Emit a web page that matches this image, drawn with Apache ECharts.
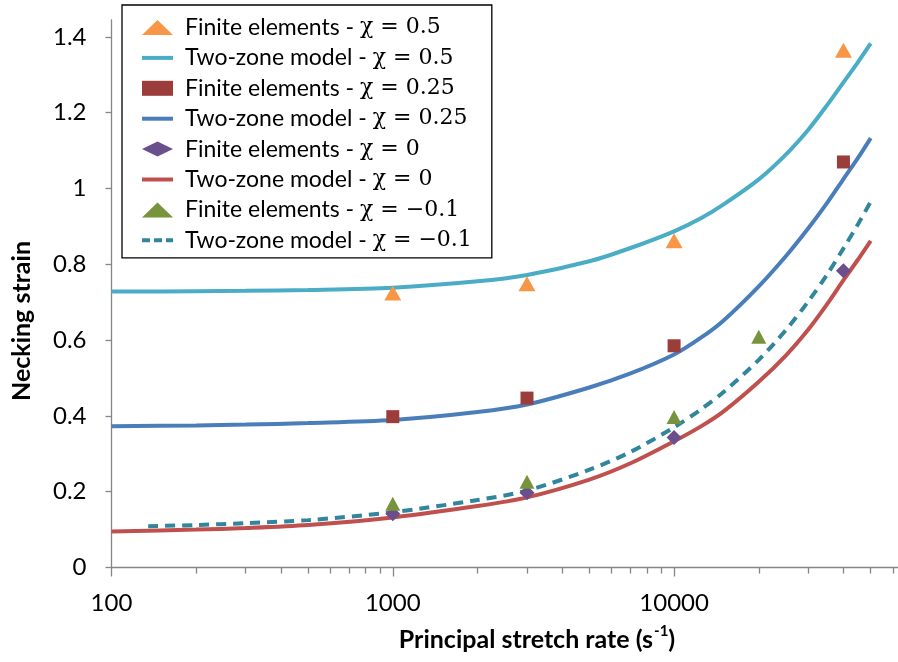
<!DOCTYPE html>
<html>
<head>
<meta charset="utf-8">
<script src="https://cdn.jsdelivr.net/npm/echarts@6/dist/echarts.min.js"></script>
<style>
html,body{margin:0;padding:0;background:#fff;}
#chart{width:898px;height:662px;}
</style>
</head>
<body>
<div id="chart"></div>
<script>
// ---- data ----
const rateFE = [1000, 3000, 10000, 40000];
const fe05 = [0.724, 0.749, 0.862, 1.365];
const fe025 = [0.398, 0.447, 0.585, 1.07];
const fe0 = [0.142, 0.197, 0.343, 0.783];
const rateFEm01 = [1000, 3000, 10000, 20000];
const feM01 = [0.168, 0.226, 0.397, 0.609];

const rateTZ = [100, 200, 300, 500, 1000, 2000, 3000, 5000, 7000, 10000, 12500, 15000, 20000, 25000, 30000, 35000, 40000, 45000, 50000];
const tz05 = [0.728, 0.729, 0.730, 0.732, 0.738, 0.755, 0.772, 0.808, 0.843, 0.887, 0.922, 0.958, 1.024, 1.09, 1.155, 1.22, 1.28, 1.333, 1.383];
const tz025 = [0.373, 0.375, 0.377, 0.381, 0.389, 0.41, 0.43, 0.475, 0.512, 0.562, 0.607, 0.652, 0.742, 0.822, 0.895, 0.962, 1.025, 1.08, 1.133];
const tz0 = [0.095, 0.1, 0.104, 0.112, 0.132, 0.162, 0.185, 0.232, 0.275, 0.333, 0.373, 0.412, 0.49, 0.56, 0.628, 0.695, 0.758, 0.812, 0.862];
const rateTZm01 = [135, 200, 300, 500, 1000, 2000, 3000, 5000, 7000, 10000, 12500, 15000, 20000, 25000, 30000, 35000, 40000, 45000, 50000];
const tzM01 = [0.109, 0.112, 0.117, 0.125, 0.146, 0.178, 0.203, 0.258, 0.305, 0.37, 0.418, 0.463, 0.548, 0.627, 0.702, 0.773, 0.842, 0.905, 0.965];

const xMajorTicks = [100, 1000, 10000];
const xMinorTicks = [200, 300, 400, 500, 600, 700, 800, 900, 2000, 3000, 4000, 5000, 6000, 7000, 8000, 9000, 20000, 30000, 40000, 50000, 60000];
const yTicks = [0, 0.2, 0.4, 0.6, 0.8, 1, 1.2, 1.4];

const names = [
  'Finite elements - χ = 0.5',
  'Two-zone model - χ = 0.5',
  'Finite elements - χ = 0.25',
  'Two-zone model - χ = 0.25',
  'Finite elements - χ = 0',
  'Two-zone model - χ = 0',
  'Finite elements - χ = −0.1',
  'Two-zone model - χ = −0.1'
];

function pairs(xs, ys) { return xs.map((x, i) => [x, ys[i]]); }

const sansFont = 'Lato, "Open Sans", "Liberation Sans", sans-serif';
const serifFont = '"DejaVu Serif", "Liberation Serif", serif';
const axisColor = '#868686';
const solidIcon = 'path://M0,0h31v4h-31z';
const dashIcon = 'path://M0,0h8v4h-8zM12,0h8v4h-8zM24,0h7v4h-7z';

const chart = echarts.init(document.getElementById('chart'), null, {renderer: 'canvas'});

function lineSeries(name, xs, ys, color, dashed) {
  return {
    name: name, type: 'line', data: pairs(xs, ys), smooth: 0.3,
    symbol: 'none', showSymbol: false, z: 2,
    lineStyle: {color: color, width: 4, type: dashed ? [10, 7] : 'solid', cap: 'butt'},
    itemStyle: {color: color}
  };
}
function scatterSeries(name, xs, ys, color, symbol, size) {
  return {
    name: name, type: 'scatter', data: pairs(xs, ys), symbol: symbol, symbolSize: size, z: 3,
    itemStyle: {color: color, opacity: 1}
  };
}

const option = {
  backgroundColor: '#ffffff',
  animation: false,
  grid: {left: 111.5, top: 20, right: 0, bottom: 94.5, containLabel: false},
  xAxis: [
    {
      type: 'log', logBase: 10, min: 100, max: 62520,
      axisLine: {show: true, lineStyle: {color: axisColor, width: 1.3}},
      axisTick: {show: true, inside: false, length: 9, lineStyle: {color: axisColor, width: 1.3}, customValues: xMajorTicks},
      axisLabel: {show: true, margin: 24, color: '#000', fontSize: 24, fontFamily: sansFont, customValues: xMajorTicks,
        formatter: v => String(Math.round(v))},
      splitLine: {show: false}, minorTick: {show: false}
    },
    {
      type: 'log', logBase: 10, min: 100, max: 62520, gridIndex: 0, position: 'bottom',
      axisLine: {show: false},
      axisTick: {show: true, inside: false, length: 6, lineStyle: {color: axisColor, width: 1.3}, customValues: xMinorTicks},
      axisLabel: {show: false}, splitLine: {show: false}
    }
  ],
  yAxis: {
    type: 'value', min: 0, max: 1.4446,
    axisLine: {show: true, lineStyle: {color: axisColor, width: 1.3}},
    axisTick: {show: true, inside: false, length: 6, lineStyle: {color: axisColor, width: 1.3}, customValues: yTicks},
    axisLabel: {show: true, margin: 25, color: '#000', fontSize: 24, fontFamily: sansFont, customValues: yTicks},
    splitLine: {show: false}
  },
  graphic: [
    {
      type: 'text', x: 22, y: 321, rotation: Math.PI / 2,
      style: {text: 'Necking strain', x: 0, y: 0, align: 'center', verticalAlign: 'middle',
        fill: '#000', font: 'bold 25px ' + sansFont}
    },
    {
      type: 'text', x: 537, y: 638,
      style: {
        text: '{a|Principal stretch rate (s}{s|-1}{a|)}', x: 0, y: 0, align: 'center', verticalAlign: 'middle',
        rich: {
          a: {fontSize: 25, fontWeight: 'bold', fontFamily: sansFont, fill: '#000', lineHeight: 28, verticalAlign: 'bottom'},
          s: {fontSize: 15, fontWeight: 'bold', fontFamily: sansFont, fill: '#000', lineHeight: 28, verticalAlign: 'top', padding: [0, 0, 0, 1]}
        }
      }
    }
  ],
  legend: {
    show: true, orient: 'vertical', left: 122, top: 5,
    padding: [11, 20, 6, 20], itemGap: 7.4, itemWidth: 31, itemHeight: 15,
    borderColor: '#000', borderWidth: 1.3, backgroundColor: '#fff',
    data: names.map((n, i) => {
      if (i === 1 || i === 3 || i === 5) return {name: n, icon: solidIcon};
      if (i === 7) return {name: n, icon: dashIcon};
      return {name: n};
    }),
    formatter: function (n) {
      const idx = n.indexOf(' - ');
      return '{t|' + n.slice(0, idx + 3) + '}{m|' + n.slice(idx + 3) + '}';
    },
    textStyle: {
      color: '#000', fontSize: 23, lineHeight: 20,
      rich: {
        t: {fontSize: 23, lineHeight: 20, fontFamily: sansFont, color: '#000', padding: [0, 0, 0, 7]},
        m: {fontSize: 22, lineHeight: 20, fontFamily: serifFont, color: '#000'}
      }
    }
  },
  series: [
    scatterSeries(names[0], rateFE, fe05, '#F79646', 'triangle', [17, 15]),
    lineSeries(names[1], rateTZ, tz05, '#4BACC6', false),
    scatterSeries(names[2], rateFE, fe025, '#9B3D3A', 'rect', [13, 13]),
    lineSeries(names[3], rateTZ, tz025, '#4A7EBB', false),
    scatterSeries(names[4], rateFE, fe0, '#6B4F8C', 'diamond', [15, 15]),
    lineSeries(names[5], rateTZ, tz0, '#C0504D', false),
    scatterSeries(names[6], rateFEm01, feM01, '#77933C', 'triangle', [15, 14]),
    lineSeries(names[7], rateTZm01, tzM01, '#31859C', true)
  ]
};
chart.setOption(option);
</script>
</body>
</html>
